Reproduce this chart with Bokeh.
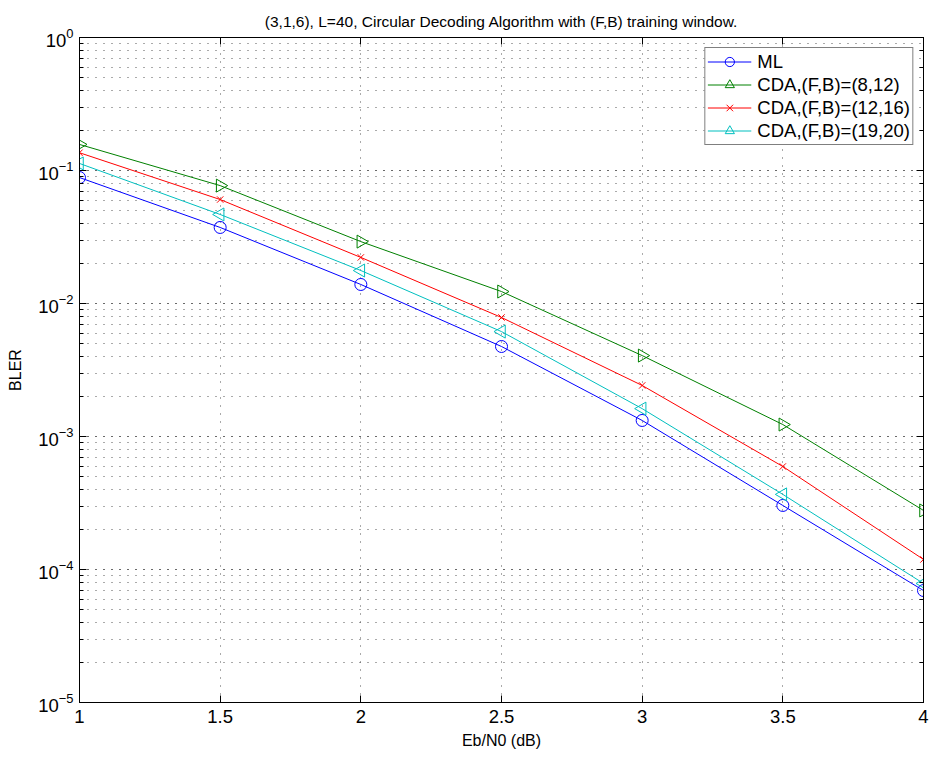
import numpy as np
from bokeh.plotting import figure
from bokeh.models import (LinearAxis, LogAxis, FixedTicker, Legend, LegendItem, Range1d,
                          CustomJSTickFormatter, ColumnDataSource)
from bokeh.embed import file_html
from bokeh.resources import INLINE

ebn0 = [1.0, 1.5, 2.0, 2.5, 3.0, 3.5, 4.0]
ml = [0.0885, 0.0373, 0.0139, 0.00475, 0.00132, 0.000303, 6.95e-5]
cda_8_12 = [0.157, 0.077, 0.0292, 0.0123, 0.00406, 0.00123, 0.000278]
cda_12_16 = [0.136, 0.0605, 0.0222, 0.00785, 0.00242, 0.000595, 0.000119]
cda_19_20 = [0.113, 0.0467, 0.0177, 0.00615, 0.00162, 0.000367, 7.85e-5]
x_ticks = [1, 1.5, 2, 2.5, 3, 3.5, 4]
title_text = "(3,1,6), L=40, Circular Decoding Algorithm with (F,B) training window."

FONT = "Liberation Sans"

p = figure(width=930, height=758, y_axis_type="log",
           x_range=Range1d(1, 4), y_range=Range1d(1e-5, 1),
           output_backend="svg", toolbar_location=None,
           min_border_left=79, min_border_right=7, min_border_top=37, min_border_bottom=56,
           title=title_text)
p.title.text_font = FONT
p.title.text_font_size = "15.5px"
p.title.text_font_style = "normal"
p.title.text_color = "black"
p.title.align = "center"
p.title.vertical_align = "top"
p.title.offset = 0
p.title.standoff = 12
p.outline_line_color = "black"
p.outline_line_width = 1
p.background_fill_color = "white"
p.border_fill_color = "white"

for ax in [p.xaxis[0], p.yaxis[0]]:
    ax.axis_line_color = "black"
    ax.major_tick_in = 7
    ax.major_tick_out = 0
    ax.minor_tick_in = 4
    ax.minor_tick_out = 0
    ax.major_label_text_font = FONT
    ax.major_label_text_font_size = "18.5px"
    ax.major_label_text_color = "black"
    ax.axis_label_text_font = FONT
    ax.axis_label_text_font_size = "16px"
    ax.axis_label_text_font_style = "normal"
    ax.axis_label_text_color = "black"

p.xaxis[0].ticker = FixedTicker(ticks=x_ticks, minor_ticks=[])
p.xaxis[0].axis_label = "Eb/N0 (dB)"
p.xaxis[0].major_label_standoff = 7
p.xaxis[0].axis_label_standoff = 6
p.yaxis[0].axis_label = "BLER"
p.yaxis[0].major_label_standoff = 6
p.yaxis[0].axis_label_standoff = 11

top = LinearAxis(ticker=FixedTicker(ticks=x_ticks, minor_ticks=[]),
                 formatter=CustomJSTickFormatter(code="return ''"),
                 major_label_standoff=0, major_tick_in=7, major_tick_out=0,
                 minor_tick_in=0, minor_tick_out=0, axis_line_color="black")
p.add_layout(top, "above")
right = LogAxis(formatter=CustomJSTickFormatter(code="return ''"), major_label_standoff=0,
                major_tick_in=7, major_tick_out=0,
                minor_tick_in=4, minor_tick_out=0, axis_line_color="black")
p.add_layout(right, "right")

p.xgrid.grid_line_color = "#555555"
p.xgrid.grid_line_dash = "1 7"
p.xgrid.ticker = FixedTicker(ticks=x_ticks)
p.ygrid.grid_line_color = "#555555"
p.ygrid.grid_line_dash = "1 7"
p.ygrid.minor_grid_line_color = "#555555"
p.ygrid.minor_grid_line_dash = "1 7"

series = [
    ("ML", ml, "#0000ff", "circle", 0.0, 12),
    ("CDA,(F,B)=(8,12)", cda_8_12, "#008000", "triangle", -np.pi / 2, 13),
    ("CDA,(F,B)=(12,16)", cda_12_16, "#ff0000", "x", 0.0, 9),
    ("CDA,(F,B)=(19,20)", cda_19_20, "#00bfbf", "triangle", np.pi / 2, 13),
]
items = []
for name, ys, color, marker, ang, size in series:
    src = ColumnDataSource(dict(x=ebn0, y=ys, ang=[ang] * len(ebn0)))
    r1 = p.line("x", "y", source=src, line_color=color, line_width=1)
    r2 = p.scatter("x", "y", source=src, marker=marker, angle="ang", size=size,
                   line_color=color, fill_color=None, line_width=1)
    items.append(LegendItem(label=name, renderers=[r1, r2], index=0))

legend = Legend(items=items, location="top_right")
legend.label_text_font = FONT
legend.label_text_font_size = "18.5px"
legend.label_text_color = "black"
legend.border_line_color = "black"
legend.border_line_width = 1
legend.background_fill_alpha = 1
legend.margin = 10
legend.padding = 2
legend.spacing = 0
legend.label_height = 23
legend.glyph_height = 23
legend.glyph_width = 44
legend.label_standoff = 6
p.add_layout(legend)

open("out.html", "w").write(file_html(p, INLINE))
